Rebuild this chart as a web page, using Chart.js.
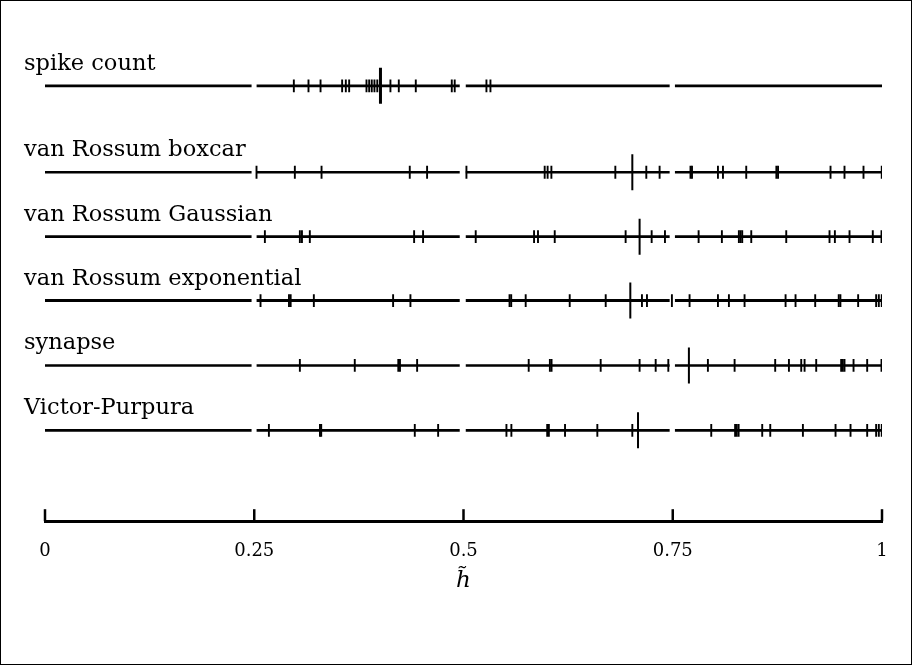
<!DOCTYPE html>
<html><head><meta charset="utf-8">
<script src="https://cdn.jsdelivr.net/npm/chart.js@4.4.0/dist/chart.umd.min.js"></script>
<style>html,body{margin:0;padding:0;background:#fff;}canvas{display:block;}</style>
</head><body>
<canvas id="c" width="912" height="665"></canvas>
<script>
// ---------------- data ----------------
const rowNames = ['spike count','van Rossum boxcar','van Rossum Gaussian','van Rossum exponential','synapse','Victor-Purpura'];

// four groups of the x range, each drawn as a separate segment
const segmentStarts = [0, 0.2528, 0.5027, 0.7526];
const segmentEnds   = [0.2468, 0.4955, 0.7463, 1];

const spikeCountTicks = [0.2973,0.3148,0.3292,0.3550,0.3594,0.3634,0.3841,0.3873,0.3904,0.3936,0.3970,0.4127,0.4227,0.4430,0.4860,0.4895,0.5274,0.5322];
const spikeCountMark = 0.4008;

const boxcarTicks = [0.2527,0.2985,0.3304,0.4358,0.4565,0.5035,0.5970,0.6005,0.6050,0.6814,0.7184,0.7343,0.7712,0.7730,0.8040,0.8100,0.8378,0.8738,0.8758,0.9385,0.9552,0.9779,0.9997];
const boxcarMark = 0.7017;

const gaussianTicks = [0.2627,0.3045,0.3070,0.3164,0.4410,0.4517,0.5146,0.5843,0.5890,0.6090,0.6937,0.7248,0.7407,0.7809,0.8087,0.8290,0.8310,0.8330,0.8438,0.8856,0.9373,0.9437,0.9612,0.9890,0.9994];
const gaussianMark = 0.7104;

const exponentialTicks = [0.2575,0.2915,0.2935,0.3212,0.4159,0.4366,0.5550,0.5570,0.5743,0.6269,0.6699,0.7132,0.7192,0.7490,0.7701,0.8040,0.8171,0.8358,0.8848,0.8967,0.9202,0.9483,0.9503,0.9715,0.9930,0.9962,0.9997];
const exponentialMark = 0.6993;

const synapseTicks = [0.3045,0.3701,0.4221,0.4241,0.4446,0.5779,0.6032,0.6052,0.6639,0.7104,0.7296,0.7447,0.7920,0.8239,0.8724,0.8888,0.9035,0.9075,0.9214,0.9512,0.9532,0.9552,0.9660,0.9823,0.9994];
const synapseMark = 0.7693;

const victorPurpuraTicks = [0.2675,0.3285,0.3300,0.4418,0.4697,0.5513,0.5572,0.6000,0.6020,0.6213,0.6599,0.7017,0.7960,0.8245,0.8265,0.8287,0.8569,0.8665,0.9055,0.9445,0.9624,0.9823,0.9930,0.9962,0.9997];
const victorPurpuraMark = 0.7085;

const xTickValues = [0, 0.25, 0.5, 0.75, 1];
const xTickLabels = ['0', '0.25', '0.5', '0.75', '1'];
const xTitle = 'h\u0303';

// ---------------- layout / style ----------------
const allTicks = [spikeCountTicks, boxcarTicks, gaussianTicks, exponentialTicks, synapseTicks, victorPurpuraTicks];
const allMarks = [spikeCountMark, boxcarMark, gaussianMark, exponentialMark, synapseMark, victorPurpuraMark];
const ROW_LEVEL = [86, 172.5, 237, 301, 366, 431];   // vertical row placement (y scale units)
const LINE_W = [2.6, 2.6, 2.6, 3.1, 2.6, 2.6];
const MARK_W = [3, 2, 2, 2, 2, 2];
const SERIF = '"DejaVu Serif", "Liberation Serif", serif';

const datasets = [];
rowNames.forEach((name, r) => {
  const lvl = ROW_LEVEL[r];
  const pts = [];
  segmentStarts.forEach((s, k) => {
    pts.push({x: s, y: lvl}, {x: segmentEnds[k], y: lvl});
    if (k < segmentStarts.length - 1) pts.push({x: (segmentEnds[k] + segmentStarts[k + 1]) / 2, y: null});
  });
  datasets.push({
    label: name + ' line', data: pts, showLine: true, spanGaps: false,
    borderColor: '#000', borderWidth: LINE_W[r], pointRadius: 0, pointHoverRadius: 0, order: 3
  });
  datasets.push({
    label: name + ' ticks', data: allTicks[r].map(v => ({x: v, y: lvl})), showLine: false,
    pointStyle: 'line', pointRotation: 90, pointRadius: 6.4, pointHoverRadius: 6.4,
    pointBorderWidth: 1.9, pointBorderColor: '#000', pointBackgroundColor: '#000', order: 2
  });
  datasets.push({
    label: name + ' mark', data: [{x: allMarks[r], y: lvl}], showLine: false,
    pointStyle: 'line', pointRotation: 90, pointRadius: 18, pointHoverRadius: 18,
    pointBorderWidth: MARK_W[r], pointBorderColor: '#000', pointBackgroundColor: '#000', order: 1
  });
});

const overlay = {
  id: 'overlay',
  afterDatasetsDraw(chart) {
    const {ctx, scales: {x, y}} = chart;
    ctx.save();
    ctx.fillStyle = '#000';
    ctx.font = '22.5px ' + SERIF;
    ctx.textBaseline = 'alphabetic';
    ctx.textAlign = 'left';
    rowNames.forEach((n, i) => ctx.fillText(n, 24, y.getPixelForValue(ROW_LEVEL[i]) - 16));
    ctx.strokeStyle = '#000';
    ctx.lineWidth = 2.5;
    x.ticks.forEach(t => {
      const px = x.getPixelForValue(t.value);
      ctx.beginPath(); ctx.moveTo(px, x.top); ctx.lineTo(px, x.top - 12); ctx.stroke();
    });
    ctx.restore();
  },
  afterDraw(chart) {
    const ctx = chart.ctx;
    ctx.save(); ctx.strokeStyle = '#000'; ctx.lineWidth = 1;
    ctx.strokeRect(0.5, 0.5, 911, 664);
    ctx.restore();
  }
};

new Chart(document.getElementById('c'), {
  type: 'scatter',
  data: {datasets},
  options: {
    responsive: false, animation: false, devicePixelRatio: 1,
    layout: {autoPadding: false, padding: {left: 45, right: 30, top: 0, bottom: 71.6}},
    plugins: {legend: {display: false}, tooltip: {enabled: false}},
    scales: {
      x: {
        type: 'linear', min: 0, max: 1, position: 'bottom',
        afterBuildTicks: s => { s.ticks = xTickValues.map(v => ({value: v})); },
        border: {display: true, color: '#000', width: 3},
        grid: {display: false, drawTicks: false},
        ticks: {padding: 19, color: '#000', font: {family: SERIF, size: 18},
                callback: (v, i) => xTickLabels[i], maxRotation: 0, autoSkip: false},
        title: {display: true, text: xTitle, color: '#000',
                font: {family: SERIF, size: 23, style: 'italic'}, padding: {top: -14, bottom: -1}}
      },
      y: {type: 'linear', display: false, reverse: true, min: 0, max: 522}
    }
  },
  plugins: [overlay]
});
</script>
</body></html>
